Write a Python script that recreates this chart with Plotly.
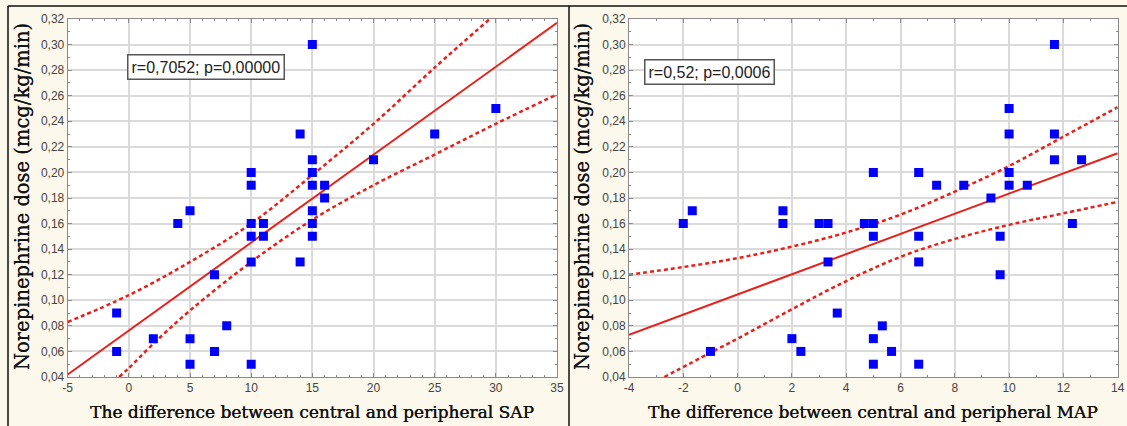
import plotly.graph_objects as go

# ---- Left panel: SAP difference vs norepinephrine dose ----
sap_x = [-1, -1, 2, 4, 5, 5, 5, 7, 7, 8, 10, 10, 10, 10, 10, 10, 11, 11, 14, 14,
         15, 15, 15, 15, 15, 15, 15, 16, 16, 20, 25, 30]
sap_y = [0.09, 0.06, 0.07, 0.16, 0.17, 0.07, 0.05, 0.12, 0.06, 0.08, 0.20, 0.19, 0.16, 0.15, 0.13, 0.05,
         0.16, 0.15, 0.23, 0.13, 0.30, 0.21, 0.20, 0.19, 0.17, 0.16, 0.15, 0.19, 0.18, 0.21, 0.23, 0.25]
sap_fit_x = [-5, 35]
sap_fit_y = [0.042, 0.317]
sap_up_x = [-5, 0, 5, 10, 15, 20, 25, 29.5]
sap_up_y = [0.083, 0.104, 0.130, 0.160, 0.198, 0.238, 0.282, 0.32]
sap_lo_x = [-0.8, 0, 2, 5, 10, 15, 20, 25, 30, 35]
sap_lo_y = [0.04, 0.047, 0.066, 0.092, 0.130, 0.163, 0.190, 0.214, 0.238, 0.261]
sap_label = "r=0,7052; p=0,00000"
sap_ticks = [-5, 0, 5, 10, 15, 20, 25, 30, 35]
sap_ticktext = ["-5", "0", "5", "10", "15", "20", "25", "30", "35"]

# ---- Right panel: MAP difference vs norepinephrine dose ----
map_x = [-2, -1.67, -1, 1.67, 1.67, 2, 2.33, 3, 3.33, 3.33, 3.67, 4.67, 5, 5, 5, 5, 5, 5.33, 5.67,
         6.67, 6.67, 6.67, 6.67, 7.33, 8.33, 9.33, 9.67, 9.67, 10, 10, 10, 10, 10.67,
         11.67, 11.67, 11.67, 12.33, 12.67]
map_y = [0.16, 0.17, 0.06, 0.17, 0.16, 0.07, 0.06, 0.16, 0.16, 0.13, 0.09, 0.16, 0.16, 0.15, 0.20, 0.07, 0.05, 0.08, 0.06,
         0.20, 0.15, 0.13, 0.05, 0.19, 0.19, 0.18, 0.15, 0.12, 0.25, 0.23, 0.20, 0.19, 0.19,
         0.30, 0.23, 0.21, 0.16, 0.21]
map_fit_x = [-4, 14]
map_fit_y = [0.073, 0.215]
map_up_x = [-4, -2, 0, 2, 4, 6, 8, 10, 12, 14]
map_up_y = [0.12, 0.126, 0.133, 0.142, 0.153, 0.167, 0.185, 0.205, 0.228, 0.251]
map_lo_x = [-2.7, -1, 0, 2, 4, 6, 8, 10, 12, 14]
map_lo_y = [0.04, 0.059, 0.07, 0.093, 0.115, 0.134, 0.148, 0.159, 0.168, 0.177]
map_label = "r=0,52; p=0,0006"
map_ticks = [-4, -2, 0, 2, 4, 6, 8, 10, 12, 14]
map_ticktext = ["-4", "-2", "0", "2", "4", "6", "8", "10", "12", "14"]

y_title = "Norepinephrine dose (mcg/kg/min)"
x_title_left = "The difference between central and peripheral SAP"
x_title_right = "The difference between central and peripheral MAP"

W, H = 1127, 426
RED = "#e8201c"
BLUE = "#0000ff"

fig = go.Figure()

def add_panel(xs, ys, fx, fy, ux, uy, lx, ly, xa, ya):
    for bx, by in ((ux, uy), (lx, ly)):
        fig.add_trace(go.Scatter(x=bx, y=by, mode="lines",
                                 line=dict(color=RED, width=2.5, dash="4px,3px", shape="spline"),
                                 xaxis=xa, yaxis=ya, showlegend=False, hoverinfo="skip"))
    fig.add_trace(go.Scatter(x=fx, y=fy, mode="lines", line=dict(color=RED, width=2),
                             xaxis=xa, yaxis=ya, showlegend=False, hoverinfo="skip"))
    fig.add_trace(go.Scatter(x=xs, y=ys, mode="markers",
                             marker=dict(symbol="square", size=9, color=BLUE, line=dict(width=0)),
                             xaxis=xa, yaxis=ya, showlegend=False))

add_panel(sap_x, sap_y, sap_fit_x, sap_fit_y, sap_up_x, sap_up_y, sap_lo_x, sap_lo_y, "x", "y")
add_panel(map_x, map_y, map_fit_x, map_fit_y, map_up_x, map_up_y, map_lo_x, map_lo_y, "x2", "y2")

ydom = [1 - 377 / H, 1 - 19 / H]
axis_common = dict(showgrid=True, gridcolor="#dadada", gridwidth=1.5, zeroline=False, automargin=False,
                   showline=True, linecolor="#8a8a8a", linewidth=1, mirror="allticks",
                   ticks="inside", ticklen=4, tickcolor="#8a8a8a",
                   tickfont=dict(family="Liberation Sans, Arial", size=12, color="#444444"))
minor_common = dict(ticks="inside", ticklen=2, tickcolor="#8a8a8a", showgrid=False)

fig.update_layout(
    width=W, height=H, margin=dict(l=0, r=0, t=0, b=0),
    paper_bgcolor="#fcf8ec", plot_bgcolor="#ffffff",
    separators=", ",
    xaxis=dict(domain=[67.7 / W, 557 / W], range=[-5, 35], tickvals=sap_ticks, ticktext=sap_ticktext,
               anchor="y", minor=dict(dtick=1, tick0=0, **minor_common), **axis_common),
    yaxis=dict(domain=ydom, range=[0.04, 0.32], dtick=0.02, tick0=0, tickformat=".2f", anchor="x",
               minor=dict(dtick=0.01, tick0=0, **minor_common), **axis_common),
    xaxis2=dict(domain=[629 / W, 1117.7 / W], range=[-4, 14], tickvals=map_ticks, ticktext=map_ticktext,
                anchor="y2", minor=dict(dtick=1, tick0=0, **minor_common), **axis_common),
    yaxis2=dict(domain=ydom, range=[0.04, 0.32], dtick=0.02, tick0=0, tickformat=".2f", anchor="x2",
                minor=dict(dtick=0.01, tick0=0, **minor_common), **axis_common),
)

xt_font = dict(family="DejaVu Serif", size=17, color="#111111", shadow="0.35px 0 0 #111111")
yt_font = dict(family="DejaVu Serif", size=19.5, color="#111111", shadow="0 -0.35px 0 #111111")
ann = []
ann.append(dict(text=x_title_left, x=312 / W, y=1 - 412 / H, xref="paper", yref="paper",
                showarrow=False, font=xt_font, xanchor="center", yanchor="middle"))
ann.append(dict(text=x_title_right, x=873 / W, y=1 - 412 / H, xref="paper", yref="paper",
                showarrow=False, font=xt_font, xanchor="center", yanchor="middle"))
ann.append(dict(text=y_title, x=22 / W, y=1 - 197 / H, xref="paper", yref="paper", textangle=-90,
                showarrow=False, font=yt_font, xanchor="center", yanchor="middle"))
ann.append(dict(text=y_title, x=582 / W, y=1 - 197 / H, xref="paper", yref="paper", textangle=-90,
                showarrow=False, font=yt_font, xanchor="center", yanchor="middle"))
box_font = dict(family="Liberation Sans, Arial", size=16, color="#222222")
ann.append(dict(text=sap_label, x=206 / W, y=1 - 67 / H, xref="paper", yref="paper", showarrow=False,
                font=box_font, bgcolor="#ffffff", bordercolor="#555555", borderwidth=1.5, borderpad=3,
                xanchor="center", yanchor="middle"))
ann.append(dict(text=map_label, x=709 / W, y=1 - 72 / H, xref="paper", yref="paper", showarrow=False,
                font=box_font, bgcolor="#ffffff", bordercolor="#555555", borderwidth=1.5, borderpad=3,
                xanchor="center", yanchor="middle"))
fig.update_layout(annotations=ann)

# panel frame lines
shapes = [
    dict(type="line", xref="paper", yref="paper", x0=8 / W, x1=1, y0=1 - 6 / H, y1=1 - 6 / H,
         line=dict(color="#111111", width=1.5)),
    dict(type="line", xref="paper", yref="paper", x0=8 / W, x1=8 / W, y0=0, y1=1 - 6 / H,
         line=dict(color="#111111", width=1.5)),
    dict(type="line", xref="paper", yref="paper", x0=569 / W, x1=569 / W, y0=0, y1=1 - 6 / H,
         line=dict(color="#111111", width=1.5)),
]
fig.update_layout(shapes=shapes)

fig.write_html("out.html")
